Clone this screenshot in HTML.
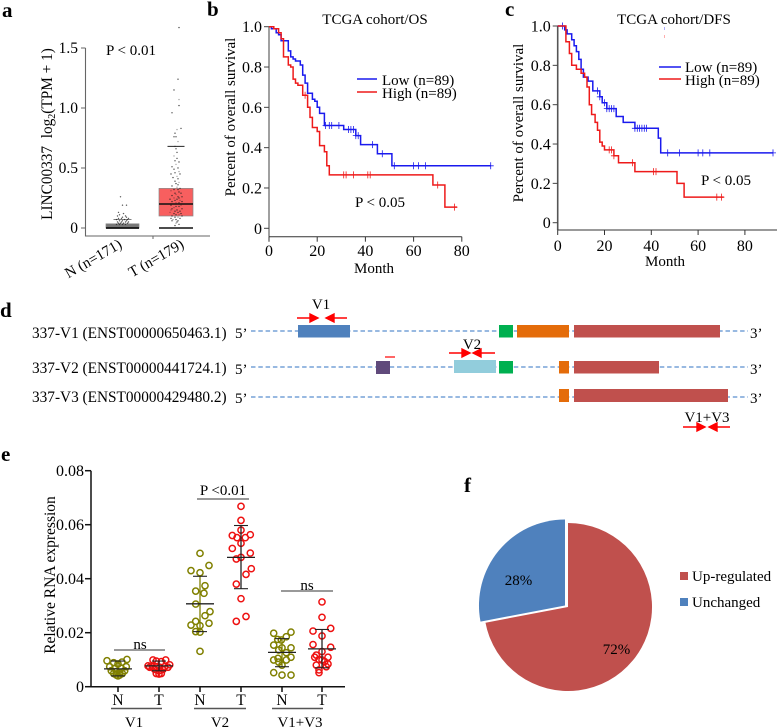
<!DOCTYPE html>
<html lang="en">
<head>
<meta charset="utf-8">
<title>LINC00337 figure</title>
<style>
html,body{margin:0;padding:0;background:#fff}
svg{display:block;font-family:"Liberation Serif",serif;fill:#000}
text{font-size:15px}
.big{font-size:16px}
.letter{font-size:21px;font-weight:bold;fill:#000}
</style>
</head>
<body>
<svg id="fig" width="777" height="728" viewBox="0 0 777 728" xmlns="http://www.w3.org/2000/svg">
  <rect x="0" y="0" width="777" height="728" fill="#fff"/>
  <text class="letter" x="2" y="17">a</text>
  <text class="letter" x="207" y="16">b</text>
  <text class="letter" x="505" y="16">c</text>
  <text class="letter" x="0" y="317">d</text>
  <text class="letter" x="1" y="461">e</text>
  <text class="letter" x="464" y="492">f</text>

  <g id="panelA">
    <text transform="translate(52 134) rotate(-90)" text-anchor="middle" style="font-size:15.3px">LINC00337&#160;&#160;log<tspan dy="3" style="font-size:10px">2</tspan><tspan dy="-3">(TPM + 1)</tspan></text>
    <text x="106" y="55" style="font-size:15px">P &lt; 0.01</text>
    <text transform="translate(123 247) rotate(-30)" text-anchor="end">N (n=171)</text>
    <text transform="translate(185 247) rotate(-30)" text-anchor="end">T (n=179)</text>
  </g>

  <g id="panelB">
    <text x="375" y="24" text-anchor="middle">TCGA cohort/OS</text>
    <text transform="translate(235 117) rotate(-90)" text-anchor="middle">Percent of overall survival</text>
    <text x="374" y="273" text-anchor="middle">Month</text>
    <text x="355" y="207">P &lt; 0.05</text>
    <line x1="357" x2="377" y1="79" y2="79" stroke="#1a1aee" stroke-width="1.5"/>
    <text x="382" y="85">Low (n=89)</text>
    <line x1="357" x2="377" y1="92" y2="92" stroke="#ee1a1a" stroke-width="1.5"/>
    <text x="382" y="98">High (n=89)</text>
  </g>

  <g id="panelC">
    <text x="674" y="24" text-anchor="middle">TCGA cohort/DFS</text>
    <text transform="translate(523 123) rotate(-90)" text-anchor="middle">Percent of overall survival</text>
    <text x="665" y="266" text-anchor="middle">Month</text>
    <text x="701" y="185">P &lt; 0.05</text>
    <line x1="659" x2="681" y1="67" y2="67" stroke="#1a1aee" stroke-width="1.5"/>
    <text x="685" y="72">Low (n=89)</text>
    <line x1="659" x2="681" y1="79" y2="79" stroke="#ee1a1a" stroke-width="1.5"/>
    <text x="685" y="85">High (n=89)</text>
    <line x1="664.5" x2="664.5" y1="27" y2="30" stroke="#99f" stroke-width="0.8"/>
    <line x1="664.5" x2="664.5" y1="35" y2="38" stroke="#f99" stroke-width="0.8"/>
  </g>

  <g>
    <text x="32" y="338" style="font-size:15.3px">337-V1 (ENST00000650463.1)</text>
    <text x="32" y="373" style="font-size:15.3px">337-V2 (ENST00000441724.1)</text>
    <text x="32" y="402" style="font-size:15.3px">337-V3 (ENST00000429480.2)</text>
    <text x="235" y="338">5’</text>
    <text x="235" y="374">5’</text>
    <text x="235" y="403">5’</text>
    <text x="750" y="338">3’</text>
    <text x="750" y="374">3’</text>
    <text x="750" y="403">3’</text>
    <line x1="251" x2="748" y1="331" y2="331" stroke="#5b8fcf" stroke-width="1.3" stroke-dasharray="4.5 2.8"/>
    <line x1="251" x2="748" y1="367" y2="367" stroke="#5b8fcf" stroke-width="1.3" stroke-dasharray="4.5 2.8"/>
    <line x1="251" x2="748" y1="397" y2="397" stroke="#5b8fcf" stroke-width="1.3" stroke-dasharray="4.5 2.8"/>
    <rect x="298" y="325" width="52" height="12.5" fill="#4f81bd"/>
    <rect x="499" y="325" width="14" height="12.5" fill="#00b050"/>
    <rect x="517" y="325" width="52" height="12.5" fill="#e46c0a"/>
    <rect x="574" y="325" width="146" height="12.5" fill="#c0504d"/>
    <rect x="376" y="361" width="14" height="13" fill="#604a7b"/>
    <rect x="454" y="360" width="42" height="13" fill="#92cddc"/>
    <rect x="499" y="361" width="14" height="12.5" fill="#00b050"/>
    <rect x="559" y="361" width="10" height="12.5" fill="#e46c0a"/>
    <rect x="574" y="361" width="85" height="12.5" fill="#c0504d"/>
    <rect x="559" y="389" width="10" height="13" fill="#e46c0a"/>
    <rect x="574" y="389" width="154" height="13" fill="#c0504d"/>
    <text x="321" y="309" text-anchor="middle">V1</text>
    <text x="472" y="349" text-anchor="middle">V2</text>
    <text x="707" y="422" text-anchor="middle">V1+V3</text>
    <path d="M297 318H311M310 314L318 318L310 322Z" stroke="#f00" stroke-width="1.4" fill="#f00"/>
    <path d="M347 318H333M334 314L326 318L334 322Z" stroke="#f00" stroke-width="1.4" fill="#f00"/>
    <path d="M449 353H463M462 349L470 353L462 357Z" stroke="#f00" stroke-width="1.4" fill="#f00"/>
    <path d="M495 353H480M481 349L473 353L481 357Z" stroke="#f00" stroke-width="1.4" fill="#f00"/>
    <line x1="385" x2="395" y1="357" y2="357" stroke="#f00" stroke-width="1.2"/>
    <path d="M683 427H698M697 423L705 427L697 431Z" stroke="#f00" stroke-width="1.4" fill="#f00"/>
    <path d="M730 427H716M717 423L709 427L717 431Z" stroke="#f00" stroke-width="1.4" fill="#f00"/>
  </g>

  <g id="panelE">
    <text transform="translate(55 575) rotate(-90)" text-anchor="middle" style="font-size:15.5px">Relative RNA expression</text>
    <text x="140" y="649" text-anchor="middle">ns</text>
    <text x="223" y="495" text-anchor="middle">P &lt;0.01</text>
    <text x="307" y="590" text-anchor="middle">ns</text>
    <line x1="114" x2="165" y1="650" y2="650" stroke="#333" stroke-width="1"/>
    <line x1="197" x2="249" y1="499" y2="499" stroke="#333" stroke-width="1"/>
    <line x1="281" x2="333" y1="591" y2="591" stroke="#333" stroke-width="1"/>
    <line x1="111" x2="162" y1="708.5" y2="708.5" stroke="#555" stroke-width="1.5"/>
    <line x1="194" x2="246" y1="708.5" y2="708.5" stroke="#555" stroke-width="1.5"/>
    <line x1="272" x2="323" y1="708.5" y2="708.5" stroke="#555" stroke-width="1.5"/>
    <text x="134" y="727" text-anchor="middle">V1</text>
    <text x="220" y="727" text-anchor="middle">V2</text>
    <text x="300" y="727" text-anchor="middle">V1+V3</text>
  </g>

  <g id="panelF">
    <rect x="680" y="572" width="8" height="8" fill="#c0504d"/>
    <text x="692" y="581">Up-regulated</text>
    <rect x="680" y="598" width="8" height="8" fill="#4f81bd"/>
    <text x="692" y="607">Unchanged</text>
  </g>
</svg>

<script>
// ---------- Panel a ----------
const aYTicks = [0, 0.5, 1.0, 1.5];
const aYTickLabels = ['0', '0.5', '1.0', '1.5'];
const aBoxN = [0, 0, 0.035, 0.07];
const aBoxT = [0.1, 0.2, 0.33, 0.68];
const aPointsNValues = [0.26,0.19,0.19,0.13,0.12,0.11,0.1,0.1,0.09,0.09,0.08,0.08,0.08,0.07,0.07,0.07,0.06,0.06,0.06,0.05,0.05,0.05,0.05,0.04,0.04,0.04,0.04,0.03,0.03,0.03,0.03];
const aPointsNJitter = [-2,0,4,-4,1,-3,3,-5,0,4,-4,-1,6,-6,2,5,-3,0,4,-5,-1,3,6,-4,-2,1,5,-3,0,3,-6];
const aPointsTValues = [1.67,1.24,1.15,1.07,1.02,0.96,0.83,0.82,0.79,0.76,0.76,0.72,0.68,0.66,0.63,0.6,0.58,0.56,0.55,0.53,0.51,0.5,0.49,0.47,0.46,0.45,0.45,0.43,0.42,0.41,0.39,0.38,0.37,0.36,0.35,0.34,0.33,0.32,0.32,0.31,0.3,0.29,0.29,0.28,0.27,0.26,0.26,0.25,0.25,0.24,0.24,0.23,0.23,0.22,0.22,0.21,0.21,0.2,0.2,0.19,0.19,0.18,0.18,0.17,0.16,0.16,0.15,0.15,0.14,0.14,0.13,0.13,0.12,0.12,0.11,0.11,0.1,0.1,0.09,0.09,0.08,0.08,0.07,0.07,0.06,0.06,0.05,0.04,0.03,0.02];
const aPointsTJitter = [3,2,-2,3,3,-4,5,1,-1,-2,0,2,-1,0,1,-2,1,-1,3,0,-4,2,-2,3,-1,4,-5,1,-3,2,-1,3,0,2,-4,1,4,-2,2,-5,3,-1,5,0,-4,2,6,-2,3,-6,1,4,-1,-4,6,0,3,-3,2,5,-5,0,3,-2,6,-4,1,-5,4,-1,2,-6,5,-2,0,3,-4,6,-1,2,-5,4,0,-3,2,-4,1,0,3,-1];

// ---------- Panel b ----------
const bXTicks = [0, 20, 40, 60, 80];
const bYTicks = [0, 0.2, 0.4, 0.6, 0.8, 1.0];
const bYTickLabels = ['0', '0.2', '0.4', '0.6', '0.8', '1.0'];
const bLowMonths = [0,1,3,4,5,8,9,10,11,13,14,15,16,18,19,20,21,23,31,36,38,45,51,92];
const bLowSurvival = [1,0.99,0.97,0.96,0.93,0.88,0.85,0.84,0.83,0.81,0.76,0.72,0.67,0.64,0.63,0.6,0.57,0.51,0.49,0.46,0.415,0.37,0.31,0.31];
const bHighMonths = [0,2,4,5,6,8,9,10,11,12,14,16,17,18,20,21,23,24,25,68,73,78];
const bHighSurvival = [1,0.99,0.97,0.94,0.85,0.81,0.8,0.74,0.72,0.71,0.66,0.6,0.55,0.5,0.48,0.41,0.38,0.31,0.265,0.215,0.105,0.105];
const bLowCensor = [23.5,25,26,29,33,34,35,36,37,43,47,52,60,62,65,92];
const bHighCensor = [15,31,32,35,41,42,70,77];

// ---------- Panel c ----------
const cXTicks = [0, 20, 40, 60, 80];
const cYTicks = [0, 0.2, 0.4, 0.6, 0.8, 1.0];
const cYTickLabels = ['0', '0.2', '0.4', '0.6', '0.8', '1.0'];
const cLowMonths = [0,3,4,6,7,8,9,10,11,13,15,18,19,21,25,28,33,43,44,92];
const cLowSurvival = [1,0.98,0.96,0.93,0.9,0.87,0.83,0.78,0.74,0.72,0.67,0.64,0.61,0.58,0.54,0.51,0.48,0.43,0.355,0.355];
const cHighMonths = [0,3.5,5,6,8,10,11.5,12.5,13.5,14.5,16,17,18,19,20,24,26,33,51,54,71];
const cHighSurvival = [1,0.92,0.86,0.8,0.78,0.76,0.74,0.69,0.6,0.55,0.51,0.47,0.41,0.39,0.37,0.34,0.305,0.26,0.2,0.13,0.13];
const cLowCensor = [2,17,18,20,21,22,23,24,33,34,35,36,37,38,47,52,60,62,65,92];
const cHighCensor = [22,23,24,32,41,42,68,70];

// ---------- Panel e ----------
const eYTicks = [0, 0.02, 0.04, 0.06, 0.08];
const eYTickLabels = ['0', '0.02', '0.04', '0.06', '0.08'];
const eCategories = ['N', 'T', 'N', 'T', 'N', 'T'];
const eV1NValues = [.0096,.0101,.0089,.0091,.0074,.0084,.0074,.0068,.0068,.0059,.0059,.0056,.0052,.0049,.0049,.0043,.0043,.0040];
const eV1NJitter = [-11,9,-4.3,4,-8.3,0,8.3,-3.3,3.3,-6.7,6.7,-1.7,1.7,-4.3,4.3,-1.7,1.7,0];
const eV1TValues = [.0099,.0099,.0095,.0093,.0077,.0081,.0074,.0074,.0072,.0074,.0072,.0072,.0064,.0064,.0059,.0049,.0049,.0047];
const eV1TJitter = [-6,6.7,-2.7,2.3,-11,10.7,-6.7,-2.7,.7,5.7,-9.3,9,-4.3,4,0,-2.7,2.3,0];
const eV2NValues = [.0494,.0430,.0449,.0422,.0374,.0354,.0346,.0306,.0278,.0263,.0242,.0228,.0235,.0226,.0204,.0202,.0131];
const eV2NJitter = [0,-9,9,0,5,-4.3,4,-4.3,10,5,-4.3,-9,9,0,-4.3,0,0];
const eV2TValues = [.0668,.0616,.0560,.0563,.0580,.0552,.0552,.0531,.0512,.0495,.0479,.0473,.0437,.0416,.0380,.0326,.0260,.0242];
const eV2TJitter = [0,0,-8.7,9.3,0,-4,4.3,0,-8.7,9.3,0,-4.7,10.3,5,-4.7,0,5,-4.7];
const eV13NValues = [.0198,.0202,.0185,.0173,.0175,.0154,.0144,.0144,.0136,.0126,.0109,.0099,.0099,.0091,.0080,.0052,.0043,.0043,.0105];
const eV13NJitter = [-8.3,9,4.3,-.7,-4.3,-8.3,0,9,-3.3,4.3,9,-8.3,4.3,-3.3,0,-8.3,0,9,-4];
const eV13TValues = [.0314,.0257,.0216,.0206,.0188,.0156,.0146,.0130,.0117,.0109,.0109,.0101,.0099,.0093,.0080,.0084,.0074,.0062,.0052];
const eV13TJitter = [0,0,8.7,-9,0,-9,8.7,0,-5.7,6,-7.3,-3,0,2.7,-5.7,6,4.3,-3,-3];
const eMeans = [.0066,.0077,.0307,.0479,.0127,.0140];
const eSdTop = [.0095,.0095,.0409,.0597,.0178,.0212];
const eSdBottom = [.0040,.0059,.0204,.0363,.0074,.0070];

// ---------- Panel f ----------
const pieValues = [72, 28];
const pieLabels = ['72%', '28%'];

// ---------- Axis functions ----------
const aY = v => 228 - v * 120;
const aX = i => [122.5, 176][i];
const bX = m => 269 + m * 2.41;
const bY = s => 228.3 - s * 201.6;
const cX = m => 557.7 + m * 2.34;
const cY = s => 222.7 - s * 196.7;
const eY = v => 686.7 - v * 2700;
const eX = i => [118, 159, 200, 241, 282, 322][i];

const NS = 'http://www.w3.org/2000/svg';
function mk(parent, tag, attrs, txt) {
  const el = document.createElementNS(NS, tag);
  for (const k in attrs) el.setAttribute(k, attrs[k]);
  if (txt !== undefined) el.textContent = txt;
  parent.appendChild(el);
  return el;
}
const gA = document.getElementById('panelA');
const gB = document.getElementById('panelB');
const gC = document.getElementById('panelC');
const gE = document.getElementById('panelE');
const gF = document.getElementById('panelF');

function stepPath(months, surv, xf, yf) {
  let d = 'M' + xf(months[0]).toFixed(1) + ' ' + yf(surv[0]).toFixed(1);
  for (let i = 1; i < months.length; i++) {
    d += 'H' + xf(months[i]).toFixed(1) + 'V' + yf(surv[i]).toFixed(1);
  }
  return d;
}
function survivalAt(months, surv, m) {
  let s = surv[0];
  for (let i = 0; i < months.length; i++) { if (months[i] <= m) s = surv[i]; }
  return s;
}
function drawSurvival(g, prefix, months, surv, censor, xf, yf, color) {
  let el = mk(g, 'path', {d: stepPath(months, surv, xf, yf), fill: 'none', stroke: color, 'stroke-width': 1.5});
  
  
  censor.forEach(m => {
    const s = survivalAt(months, surv, m);
    const c = mk(g, 'path', {d: 'M' + (xf(m) - 3).toFixed(1) + ' ' + yf(s).toFixed(1) + 'h6M' + xf(m).toFixed(1) + ' ' + (yf(s) - 3.5).toFixed(1) + 'v7', stroke: color, 'stroke-width': 0.8, fill: 'none'});
    
    
  });
}
function drawKmAxes(g, prefix, xf, yf, xTicks, yTicks, yLabels, axisY, xEnd, labelBase, yColor) {
  let el = mk(g, 'line', {x1: xf(0), x2: xf(0), y1: yf(1), y2: axisY, stroke: yColor, 'stroke-width': 1.6});
  
  
  el = mk(g, 'line', {x1: xf(0), x2: xEnd, y1: axisY, y2: axisY, stroke: '#333', 'stroke-width': 1});
  
  
  yTicks.forEach((v, i) => {
    const t = mk(g, 'line', {x1: xf(0) - 5, x2: xf(0), y1: yf(v), y2: yf(v), stroke: '#444', 'stroke-width': 1});
    
    
    const l = mk(g, 'text', {x: xf(0) - 7, y: yf(v) + 5.5, 'text-anchor': 'end', class: 'big'}, yLabels[i]);
    
    
  });
  xTicks.forEach(v => {
    const t = mk(g, 'line', {x1: xf(v), x2: xf(v), y1: axisY, y2: axisY + 5, stroke: '#333', 'stroke-width': 1});
    
    
    const l = mk(g, 'text', {x: xf(v), y: labelBase, 'text-anchor': 'middle', class: 'big'}, String(v));
    
    
  });
}

// ----- draw panel a -----
(function () {
  let el = mk(gA, 'path', {d: 'M85.5 48V236H210', fill: 'none', stroke: '#666', 'stroke-width': 1.1});
  
  
  el = mk(gA, 'line', {x1: 153, x2: 153, y1: 236, y2: 239, stroke: '#666'});
  
  
  aYTicks.forEach((v, i) => {
    const t = mk(gA, 'line', {x1: 81, x2: 85.5, y1: aY(v), y2: aY(v), stroke: '#666'});
    
    
    const l = mk(gA, 'text', {x: 78, y: aY(v) + 5, 'text-anchor': 'end', style: 'font-size:15.5px'}, aYTickLabels[i]);
    
    
  });
  // boxes: [q1, median, q3, whisker-top]
  [[aBoxN, '#777', 16.5, 9], [aBoxT, '#f85f5f', 17, 8.5]].forEach((b, i) => {
    const box = b[0], cx = aX(i), hw = b[2], cw = b[3];
    const w = mk(gA, 'line', {x1: cx - cw, x2: cx + cw, y1: aY(box[3]), y2: aY(box[3]), stroke: i ? '#222' : '#555', 'stroke-width': i ? 1 : 0.8});
    
    
    const r = mk(gA, 'rect', {x: cx - hw, y: aY(box[2]), width: hw * 2, height: aY(box[0]) - aY(box[2]), fill: b[1], stroke: '#888', 'stroke-width': 0.7});
    
    
    const m = mk(gA, 'line', {x1: cx - hw, x2: cx + hw, y1: aY(box[1]), y2: aY(box[1]), stroke: '#111', 'stroke-width': 1.6});
    
    
    const c = mk(gA, 'line', {x1: cx - hw, x2: cx + hw, y1: aY(0), y2: aY(0), stroke: '#111', 'stroke-width': 1.6});
    
    
  });
  aPointsNValues.forEach((v, i) => {
    const p = mk(gA, 'circle', {cx: aX(0) + aPointsNJitter[i], cy: aY(v), r: 0.7, fill: '#222', opacity: 0.75});
    
    
  });
  aPointsTValues.forEach((v, i) => {
    const p = mk(gA, 'circle', {cx: aX(1) + aPointsTJitter[i], cy: aY(v), r: 0.7, fill: '#222', opacity: i % 4 === 3 ? 0.4 : 0.8});
    
    
  });
})();

// ----- draw panels b, c -----
drawKmAxes(gB, 'b', bX, bY, bXTicks, bYTicks, bYTickLabels, 236.7, bX(80), 256, '#888');
drawSurvival(gB, 'b-low', bLowMonths, bLowSurvival, bLowCensor, bX, bY, '#1a1aee');
drawSurvival(gB, 'b-high', bHighMonths, bHighSurvival, bHighCensor, bX, bY, '#ee1a1a');
drawKmAxes(gC, 'c', cX, cY, cXTicks, cYTicks, cYTickLabels, 230, 777, 251, '#555');
drawSurvival(gC, 'c-low', cLowMonths, cLowSurvival, cLowCensor, cX, cY, '#1a1aee');
drawSurvival(gC, 'c-high', cHighMonths, cHighSurvival, cHighCensor, cX, cY, '#ee1a1a');

// ----- draw panel e -----
(function () {
  let el = mk(gE, 'path', {d: 'M91 470.7V686.7H345', fill: 'none', stroke: '#111', 'stroke-width': 1.5});
  
  
  eYTicks.forEach((v, i) => {
    const t = mk(gE, 'line', {x1: 85, x2: 91, y1: eY(v), y2: eY(v), stroke: '#111', 'stroke-width': 1.5});
    
    
    const l = mk(gE, 'text', {x: 84, y: eY(v) + 5.5, 'text-anchor': 'end', style: 'font-size:16px'}, eYTickLabels[i]);
    
    
  });
  const seriesValues = [eV1NValues, eV1TValues, eV2NValues, eV2TValues, eV13NValues, eV13TValues];
  const seriesJitter = [eV1NJitter, eV1TJitter, eV2NJitter, eV2TJitter, eV13NJitter, eV13TJitter];
  eCategories.forEach((cat, i) => {
    const cx = eX(i);
    const color = i % 2 ? '#ee1111' : '#808000';
    const t = mk(gE, 'line', {x1: cx, x2: cx, y1: 686.7, y2: 692, stroke: '#111', 'stroke-width': 1.5});
    
    
    const l = mk(gE, 'text', {x: cx, y: 705, 'text-anchor': 'middle', style: 'font-size:15.5px'}, cat);
    
    
    seriesValues[i].forEach((v, k) => {
      const p = mk(gE, 'circle', {cx: cx + seriesJitter[i][k], cy: eY(v), r: 3.1, fill: 'none', stroke: color, 'stroke-width': 1.5});
      
      
    });
    const sdColor = i % 2 ? '#222' : '#808000';
    const s = mk(gE, 'line', {x1: cx, x2: cx, y1: eY(eSdTop[i]), y2: eY(eSdBottom[i]), stroke: sdColor, 'stroke-width': 1.3});
    
    
    const m = mk(gE, 'line', {x1: cx - 14, x2: cx + 14, y1: eY(eMeans[i]), y2: eY(eMeans[i]), stroke: '#222', 'stroke-width': 1.3});
    
    
    const c1 = mk(gE, 'line', {x1: cx - 7, x2: cx + 7, y1: eY(eSdTop[i]), y2: eY(eSdTop[i]), stroke: '#222', 'stroke-width': 1.1});
    
    
    const c2 = mk(gE, 'line', {x1: cx - 7, x2: cx + 7, y1: eY(eSdBottom[i]), y2: eY(eSdBottom[i]), stroke: '#222', 'stroke-width': 1.1});
    
    
  });
})();

// ----- draw panel f -----
(function () {
  const total = pieValues[0] + pieValues[1];
  const frac = pieValues[0] / total;
  const a = frac * 2 * Math.PI;
  const pt = (cx, cy, r, t) => (cx + r * Math.sin(t)).toFixed(1) + ' ' + (cy - r * Math.cos(t)).toFixed(1);
  const rr = 84, rb = 86;
  let el = mk(gF, 'path', {d: 'M568 607L' + pt(568, 607, rr, 0) + 'A' + rr + ' ' + rr + ' 0 ' + (frac > 0.5 ? 1 : 0) + ' 1 ' + pt(568, 607, rr, a) + 'Z', fill: '#c0504d'});
  
  
  el = mk(gF, 'path', {d: 'M565 605.5L' + pt(565, 605.5, rb, a) + 'A' + rb + ' ' + rb + ' 0 ' + (frac < 0.5 ? 1 : 0) + ' 1 ' + pt(565, 605.5, rb, 0) + 'Z', fill: '#4f81bd'});
  
  
  el = mk(gF, 'text', {x: 616.5, y: 654, 'text-anchor': 'middle'}, pieLabels[0]);
  
  
  el = mk(gF, 'text', {x: 518.5, y: 585, 'text-anchor': 'middle'}, pieLabels[1]);
  
  
})();
</script>
</body>
</html>
